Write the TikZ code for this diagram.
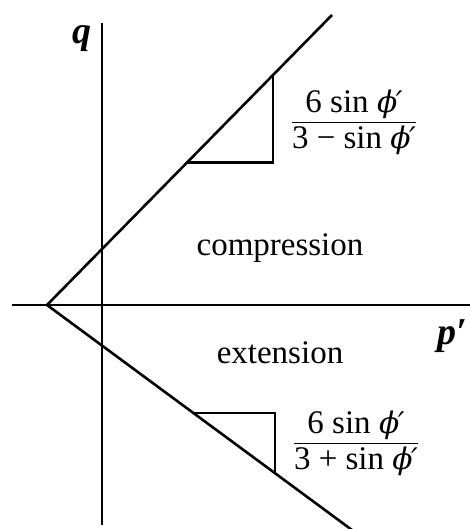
\documentclass[tikz,border=0pt]{standalone}
\usepackage{amsmath}
\usepackage{fontspec}
\setmainfont{Liberation Serif}
\newfontfamily\grkfont[Scale=0.9]{DejaVu Serif}
\newcommand{\myphi}{{\grkfont\itshape ϕ\kern-0.05em′}}
\begin{document}
\begin{tikzpicture}[x=1pt,y=-1pt,
  axis/.style={line width=2.6pt},
  envline/.style={line width=2.6pt},
  slopebox/.style={line width=2.3pt},
  lbl/.style={inner sep=0pt,font=\fontsize{33}{36}\selectfont},
  axlbl/.style={inner sep=0pt,font=\fontsize{38}{40}\selectfont\bfseries\itshape}]
\useasboundingbox (0,0) rectangle (469,529);
% axes
\coordinate (vtop) at (102,23);
\coordinate (vbot) at (102,525);
\coordinate (hl) at (12,305);
\coordinate (hr) at (472,305);
\draw[axis] (vtop) -- (vbot);
\draw[axis] (hl) -- (hr);
% envelope lines
\coordinate (apex) at (47,305);
\coordinate (uend) at (332,15);
\coordinate (lend) at (352,530);
\draw[envline] (uend) -- (apex) -- (lend);
% slope triangles
\coordinate (ua) at (187,162.5);
\coordinate (ub) at (273,162.5);
\coordinate (uc) at (273,75);
\draw[slopebox] (ua) -- (ub) -- (uc);
\coordinate (la) at (193,412.7);
\coordinate (lb) at (275,412.7);
\coordinate (lc) at (275,473);
\draw[slopebox] (la) -- (lb) -- (lc);
% labels
\node[axlbl,anchor=base] (q) at (82,44) {q};
\node[axlbl,anchor=base east] (p) at (467,344) {p′};
\node[lbl,anchor=base] (comp) at (280,255) {compression};
\node[lbl,anchor=base] (ext) at (280,363) {extension};
\node[lbl,anchor=base] (f1) at (354,129) {$\dfrac{\text{6 sin \myphi}}{\text{3 − sin \myphi}}$};
\node[lbl,anchor=base] (f2) at (356,450) {$\dfrac{\text{6 sin \myphi}}{\text{3 + sin \myphi}}$};
\end{tikzpicture}
\end{document}
